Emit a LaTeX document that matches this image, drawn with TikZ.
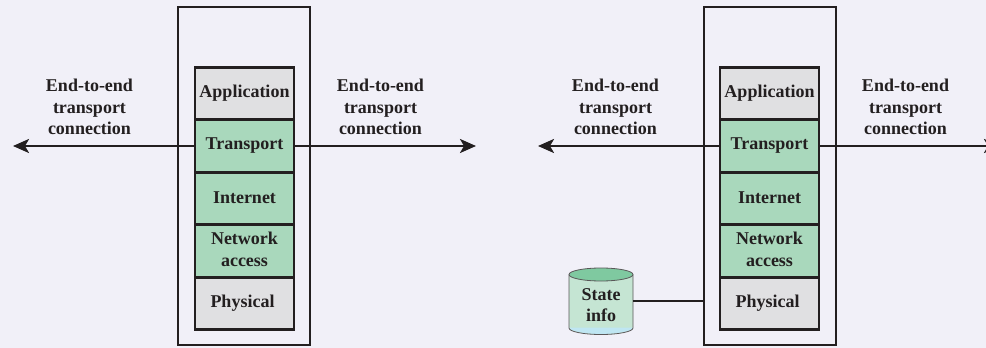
\documentclass[tikz,border=0pt]{standalone}
\usepackage{fontspec}
\setmainfont{Liberation Serif}
\usetikzlibrary{arrows.meta}
\definecolor{bgc}{HTML}{F1F0F8}
\definecolor{graylayer}{HTML}{E0E0E2}
\definecolor{greenlayer}{HTML}{A9D8BC}
\definecolor{cylbody}{HTML}{C5E5D3}
\definecolor{cyltop}{HTML}{7FC9A0}
\definecolor{cylbase}{HTML}{BFE6F2}
\definecolor{inkc}{HTML}{231F20}
\newcommand{\twolines}[2]{\begin{tabular}{@{}c@{}}#1\\#2\end{tabular}}
\tikzset{
  lbl/.style={font=\fontsize{18}{21.5}\selectfont\bfseries,text=inkc,align=center,inner sep=0pt},
  outerbox/.style={draw=inkc,line width=1.6pt,minimum width=132pt,minimum height=338pt,inner sep=0pt},
  layer/.style={draw=inkc,line width=2.8pt,minimum width=99pt,minimum height=52.6pt,inner sep=0pt,
    font=\fontsize{18}{21.5}\selectfont\bfseries,text=inkc,align=center},
  glayer/.style={layer,fill=graylayer},
  tlayer/.style={layer,fill=greenlayer},
  conn/.style={draw=inkc,line width=2.4pt},
  arrowconn/.style={conn,-{Stealth[length=16pt,width=14pt,inset=4pt]}},
}
\begin{document}
\begin{tikzpicture}[x=1pt,y=-1pt]
\useasboundingbox (0,0) rectangle (986,348);
\clip (0,0) rectangle (986,348);
\fill[bgc] (0,0) rectangle (986,348);
% left stack
\node[outerbox] (outerA) at (244,176) {};
\node[glayer] (appA) at (244.5,93.5) {\raisebox{3pt}{Application}};
\node[tlayer] (trA) at (244.5,146) {\raisebox{3pt}{Transport}};
\node[tlayer] (inA) at (244.5,198.5) {\raisebox{1pt}{Internet}};
\node[tlayer] (naA) at (244.5,251) {\raisebox{4pt}{\twolines{Network}{access}}};
\node[glayer] (phA) at (244.5,303.5) {\hspace*{-4pt}\raisebox{1pt}{Physical}};
\coordinate (lendA) at (13,146);
\coordinate (rendA) at (476,146);
\draw[arrowconn] (trA.west) -- (lendA);
\draw[arrowconn] (trA.east) -- (rendA);
\node[lbl] (tlA) at (89.5,107) {End-to-end\\transport\\connection};
\node[lbl] (trlA) at (380.5,107) {End-to-end\\transport\\connection};
% right stack
\node[outerbox] (outerB) at (770,176) {};
\node[glayer] (appB) at (769.5,93.5) {\raisebox{3pt}{Application}};
\node[tlayer] (trB) at (769.5,146) {\raisebox{3pt}{Transport}};
\node[tlayer] (inB) at (769.5,198.5) {\raisebox{1pt}{Internet}};
\node[tlayer] (naB) at (769.5,251) {\raisebox{4pt}{\twolines{Network}{access}}};
\node[glayer] (phB) at (769.5,303.5) {\hspace*{-4pt}\raisebox{1pt}{Physical}};
\coordinate (lendB) at (538,146);
\coordinate (rendB) at (1000,146);
\draw[arrowconn] (trB.west) -- (lendB);
\draw[arrowconn] (trB.east) -- (rendB);
\node[lbl] (tlB) at (615.5,107) {End-to-end\\transport\\connection};
\node[lbl] (trlB) at (905.5,107) {End-to-end\\transport\\connection};
% cylinder
\fill[cylbody] (569,274.5) -- (569,328) arc[start angle=180,end angle=360,x radius=32,y radius=-6.5] -- (633,274.5) -- cycle;
\fill[cylbase] (569,327.5) arc[start angle=180,end angle=360,x radius=32,y radius=-6.5] -- cycle;
\draw[draw=inkc!75,line width=0.8pt] (569,274.5) -- (569,328) arc[start angle=180,end angle=360,x radius=32,y radius=-6.5] -- (633,274.5);
\draw[draw=inkc!75,line width=0.8pt,fill=cyltop] (601,274.5) ellipse[x radius=32,y radius=6.5];
\node[lbl,minimum width=64pt,minimum height=46pt] (state) at (601,305) {State\\info};
\coordinate (statepin) at ([yshift=4pt]state.east);
\draw[conn] (statepin) -- (outerB.west |- statepin);
\end{tikzpicture}
\end{document}
